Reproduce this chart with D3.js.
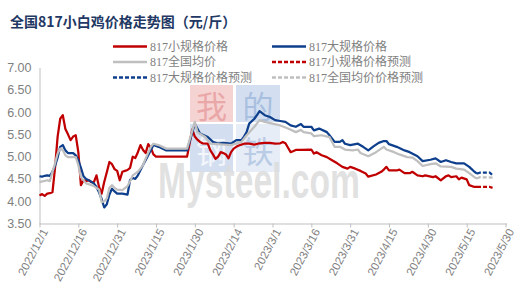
<!DOCTYPE html>
<html>
<head>
<meta charset="utf-8">
<script src="https://cdn.jsdelivr.net/npm/d3@7"></script>
<style>
  html, body { margin: 0; padding: 0; background: #fff; }
  #chart { width: 522px; height: 295px; }
</style>
</head>
<body>
<div id="chart"></div>
<script>
// 817小规格价格
const smallPrice = [["2022/12/1",4.13],["2022/12/2",4.16],["2022/12/3",4.12],["2022/12/4",4.17],["2022/12/5",4.18],["2022/12/6",4.20],["2022/12/7",4.75],["2022/12/8",5.45],["2022/12/9",5.85],["2022/12/10",5.93],["2022/12/11",5.62],["2022/12/12",5.50],["2022/12/13",5.37],["2022/12/14",5.45],["2022/12/15",5.48],["2022/12/16",5.10],["2022/12/17",4.36],["2022/12/18",4.47],["2022/12/19",4.45],["2022/12/20",4.47],["2022/12/21",4.43],["2022/12/22",4.43],["2022/12/23",4.58],["2022/12/24",4.32],["2022/12/25",4.17],["2022/12/26",4.43],["2022/12/27",4.65],["2022/12/28",4.88],["2022/12/29",4.83],["2022/12/30",4.72],["2022/12/31",4.68],["2023/1/1",4.47],["2023/1/2",4.66],["2023/1/3",4.68],["2023/1/4",4.70],["2023/1/5",4.75],["2023/1/6",5.00],["2023/1/7",4.97],["2023/1/8",5.10],["2023/1/9",5.26],["2023/1/10",5.15],["2023/1/11",5.08],["2023/1/12",5.28],["2023/1/13",5.20],["2023/1/14",5.05],["2023/1/15",5.00],["2023/1/27",5.00],["2023/1/28",5.30],["2023/1/29",5.61],["2023/1/30",5.45],["2023/1/31",5.38],["2023/2/1",5.33],["2023/2/2",5.30],["2023/2/4",5.29],["2023/2/5",5.14],["2023/2/6",5.05],["2023/2/7",4.95],["2023/2/8",5.00],["2023/2/9",5.10],["2023/2/10",5.08],["2023/2/11",5.05],["2023/2/12",4.96],["2023/2/13",5.10],["2023/2/14",5.18],["2023/2/15",5.22],["2023/2/16",5.25],["2023/2/17",5.27],["2023/2/18",5.29],["2023/2/20",5.29],["2023/2/22",5.27],["2023/2/24",5.30],["2023/2/26",5.31],["2023/2/28",5.31],["2023/3/2",5.29],["2023/3/4",5.30],["2023/3/5",5.33],["2023/3/6",5.30],["2023/3/7",5.20],["2023/3/8",5.10],["2023/3/10",5.15],["2023/3/12",5.15],["2023/3/16",5.16],["2023/3/17",5.07],["2023/3/18",5.10],["2023/3/20",5.03],["2023/3/22",4.99],["2023/3/24",4.92],["2023/3/26",4.85],["2023/3/28",4.77],["2023/3/30",4.73],["2023/3/31",4.77],["2023/4/2",4.73],["2023/4/4",4.68],["2023/4/6",4.62],["2023/4/7",4.55],["2023/4/10",4.60],["2023/4/12",4.66],["2023/4/13",4.71],["2023/4/14",4.77],["2023/4/15",4.69],["2023/4/18",4.69],["2023/4/19",4.71],["2023/4/21",4.63],["2023/4/23",4.63],["2023/4/24",4.66],["2023/4/26",4.58],["2023/4/28",4.56],["2023/4/29",4.58],["2023/5/2",4.54],["2023/5/3",4.56],["2023/5/5",4.47],["2023/5/7",4.56],["2023/5/8",4.58],["2023/5/9",4.54],["2023/5/11",4.56],["2023/5/12",4.49],["2023/5/13",4.53],["2023/5/15",4.49],["2023/5/16",4.36],["2023/5/18",4.32],["2023/5/19",4.32]];

// 817大规格价格
const largePrice = [["2022/12/1",4.56],["2022/12/2",4.55],["2022/12/3",4.57],["2022/12/4",4.58],["2022/12/5",4.57],["2022/12/6",4.66],["2022/12/7",4.80],["2022/12/8",4.98],["2022/12/9",5.22],["2022/12/10",5.26],["2022/12/11",5.14],["2022/12/12",5.08],["2022/12/14",5.08],["2022/12/15",5.03],["2022/12/16",4.92],["2022/12/17",4.75],["2022/12/18",4.56],["2022/12/19",4.50],["2022/12/20",4.47],["2022/12/22",4.40],["2022/12/23",4.32],["2022/12/24",4.20],["2022/12/25",4.05],["2022/12/26",3.86],["2022/12/27",3.93],["2022/12/28",4.15],["2022/12/29",4.28],["2022/12/30",4.22],["2022/12/31",4.17],["2023/1/2",4.17],["2023/1/4",4.15],["2023/1/5",4.48],["2023/1/6",4.52],["2023/1/7",4.50],["2023/1/8",4.58],["2023/1/10",4.81],["2023/1/12",5.03],["2023/1/14",5.26],["2023/1/16",5.22],["2023/1/19",5.14],["2023/1/27",5.14],["2023/1/30",5.74],["2023/2/1",5.52],["2023/2/4",5.44],["2023/2/6",5.33],["2023/2/8",5.29],["2023/2/10",5.31],["2023/2/13",5.29],["2023/2/15",5.37],["2023/2/17",5.37],["2023/2/18",5.45],["2023/2/19",5.55],["2023/2/20",5.74],["2023/2/22",5.85],["2023/2/23",5.93],["2023/2/24",6.02],["2023/2/26",5.93],["2023/2/28",5.89],["2023/3/2",5.82],["2023/3/4",5.80],["2023/3/6",5.78],["2023/3/8",5.70],["2023/3/10",5.67],["2023/3/12",5.73],["2023/3/13",5.67],["2023/3/16",5.67],["2023/3/17",5.59],["2023/3/19",5.63],["2023/3/22",5.55],["2023/3/23",5.48],["2023/3/25",5.33],["2023/3/27",5.33],["2023/3/28",5.37],["2023/3/29",5.29],["2023/3/31",5.26],["2023/4/3",5.29],["2023/4/5",5.22],["2023/4/7",5.14],["2023/4/9",5.23],["2023/4/11",5.31],["2023/4/13",5.35],["2023/4/14",5.35],["2023/4/15",5.28],["2023/4/18",5.22],["2023/4/21",5.14],["2023/4/23",5.10],["2023/4/26",5.01],["2023/4/28",4.90],["2023/5/1",4.93],["2023/5/3",4.96],["2023/5/5",4.88],["2023/5/7",4.92],["2023/5/9",4.88],["2023/5/11",4.85],["2023/5/14",4.85],["2023/5/16",4.77],["2023/5/18",4.66],["2023/5/19",4.62]];

// 817全国均价
const avgPrice = [["2022/12/1",4.43],["2022/12/4",4.47],["2022/12/5",4.45],["2022/12/6",4.66],["2022/12/7",4.85],["2022/12/8",5.07],["2022/12/9",5.18],["2022/12/10",5.15],["2022/12/11",5.03],["2022/12/12",4.99],["2022/12/15",4.99],["2022/12/16",4.81],["2022/12/17",4.54],["2022/12/19",4.40],["2022/12/22",4.34],["2022/12/23",4.30],["2022/12/24",4.26],["2022/12/25",3.98],["2022/12/26",4.00],["2022/12/27",4.06],["2022/12/28",4.30],["2022/12/29",4.36],["2022/12/30",4.30],["2022/12/31",4.26],["2023/1/2",4.25],["2023/1/4",4.34],["2023/1/5",4.45],["2023/1/6",4.58],["2023/1/8",4.66],["2023/1/10",4.81],["2023/1/11",4.96],["2023/1/13",5.22],["2023/1/14",5.29],["2023/1/16",5.26],["2023/1/19",5.18],["2023/1/27",5.18],["2023/1/30",5.78],["2023/1/31",5.55],["2023/2/3",5.44],["2023/2/5",5.29],["2023/2/13",5.26],["2023/2/17",5.33],["2023/2/19",5.48],["2023/2/22",5.67],["2023/2/24",5.82],["2023/2/26",5.78],["2023/3/1",5.74],["2023/3/4",5.70],["2023/3/7",5.63],["2023/3/10",5.55],["2023/3/12",5.60],["2023/3/13",5.55],["2023/3/16",5.52],["2023/3/17",5.46],["2023/3/20",5.48],["2023/3/23",5.44],["2023/3/25",5.22],["2023/3/27",5.22],["2023/3/29",5.16],["2023/4/1",5.14],["2023/4/3",5.16],["2023/4/4",5.08],["2023/4/7",5.01],["2023/4/10",5.10],["2023/4/13",5.22],["2023/4/14",5.16],["2023/4/17",5.10],["2023/4/19",5.05],["2023/4/22",4.99],["2023/4/24",4.98],["2023/4/26",4.90],["2023/4/28",4.79],["2023/5/1",4.83],["2023/5/3",4.85],["2023/5/5",4.78],["2023/5/9",4.77],["2023/5/11",4.73],["2023/5/14",4.71],["2023/5/16",4.63],["2023/5/18",4.54],["2023/5/19",4.51]];

// 预测
const smallForecast = [["2023/5/19",4.32],["2023/5/24",4.32],["2023/5/25",4.30]];
const largeForecast = [["2023/5/19",4.62],["2023/5/20",4.64],["2023/5/24",4.64],["2023/5/25",4.58]];
const avgForecast = [["2023/5/19",4.51],["2023/5/20",4.54],["2023/5/25",4.53]];

const tickLabels = ["2022/12/1","2022/12/16","2022/12/31","2023/1/15","2023/1/30","2023/2/14","2023/3/1","2023/3/16","2023/3/31","2023/4/15","2023/4/30","2023/5/15","2023/5/30"];
const yTicks = [3.5, 4.0, 4.5, 5.0, 5.5, 6.0, 6.5, 7.0];

const legendNames = ["817小规格价格", "817大规格价格", "817全国均价", "817小规格价格预测", "817大规格价格预测", "817全国均价价格预测"];

document.addEventListener("DOMContentLoaded", function() {
    const width = 522, height = 295;
    const red = "#c00000", blue = "#0e3f8c", grey = "#bfbfbf";
    const parse = d3.timeParse("%Y/%m/%d");

    const svg = d3.select("#chart").append("svg")
        .attr("width", width)
        .attr("height", height);

    const x = d3.scaleTime()
        .domain([parse(tickLabels[0]), parse(tickLabels[tickLabels.length - 1])])
        .range([39.5, 505.5]);
    const y = d3.scaleLinear()
        .domain([3.5, 7.0])
        .range([223.5, 67.5]);

    // watermark (behind the lines)
    const wm = svg.append("g").attr("class", "watermark");
    const blocks = [
        { t: "我", x: 190, y: 85, w: 43, h: 37, bg: "#f6d3d3", fg: "#eaa7a7" },
        { t: "的", x: 236, y: 85, w: 44, h: 37, bg: "#d3dff0", fg: "#a9bfdf" },
        { t: "钢", x: 190, y: 124, w: 43, h: 48, bg: "#d3dff0", fg: "#f3f6fb" },
        { t: "铁", x: 236, y: 124, w: 44, h: 48, bg: "#e6edf7", fg: "#b9cbe5" }
    ];
    blocks.forEach(b => {
        wm.append("rect").attr("x", b.x).attr("y", b.y).attr("width", b.w).attr("height", b.h)
            .attr("fill", b.bg);
        wm.append("text").attr("x", b.x + b.w / 2).attr("y", b.y + b.h / 2 + 1)
            .attr("text-anchor", "middle").attr("dominant-baseline", "central")
            .attr("font-family", "'Noto Sans CJK SC'").attr("font-size", 31)
            .attr("fill", b.fg).text(b.t);
    });
    wm.append("text")
        .attr("x", 158).attr("y", 198)
        .attr("font-family", "'Liberation Sans', Arial, sans-serif")
        .attr("font-weight", "bold").attr("font-size", 50)
        .attr("textLength", 202).attr("lengthAdjust", "spacingAndGlyphs")
        .attr("fill", "#dcdcdc").attr("fill-opacity", 0.85)
        .text("Mysteel.com");

    // axes
    const xAxis = d3.axisBottom(x)
        .tickValues(tickLabels.map(parse))
        .tickSize(4)
        .tickFormat(d3.timeFormat("%Y/%-m/%-d"));
    const gx = svg.append("g").attr("transform", "translate(0,223.5)").call(xAxis);
    gx.select(".domain").attr("stroke", "#bfbfbf").attr("d", "M39.5,0.5H507");
    gx.selectAll(".tick line").attr("stroke", "#bfbfbf");
    gx.selectAll(".tick text")
        .attr("fill", "#7f7f7f")
        .attr("font-family", "'Liberation Sans', Arial, sans-serif")
        .attr("font-size", 11.5)
        .attr("text-anchor", "end")
        .attr("dy", "0.35em")
        .attr("transform", "translate(5,6) rotate(-62)")
        .attr("x", 0).attr("y", 0);

    const yAxis = d3.axisLeft(y)
        .tickValues(yTicks)
        .tickSize(0)
        .tickPadding(8)
        .tickFormat(d3.format(".2f"));
    const gy = svg.append("g").attr("transform", "translate(39.5,0)").call(yAxis);
    gy.select(".domain").attr("stroke", "#bfbfbf");
    gy.selectAll(".tick text")
        .attr("fill", "#7f7f7f")
        .attr("font-family", "'Liberation Sans', Arial, sans-serif")
        .attr("font-size", 12.5);

    // lines
    const line = d3.line()
        .x(d => x(parse(d[0])))
        .y(d => y(d[1]));

    const series = [
        { data: smallPrice, color: red, dash: null },
        { data: largePrice, color: blue, dash: null },
        { data: avgPrice, color: grey, dash: null },
        { data: smallForecast, color: red, dash: "4,2" },
        { data: largeForecast, color: blue, dash: "4,2" },
        { data: avgForecast, color: grey, dash: "4,2" }
    ];
    series.forEach(s => {
        svg.append("path")
            .datum(s.data)
            .attr("fill", "none")
            .attr("stroke", s.color)
            .attr("stroke-width", 2.25)
            .attr("stroke-linejoin", "round")
            .attr("stroke-dasharray", s.dash)
            .attr("d", line);
    });

    // title
    svg.append("text")
        .attr("x", 10).attr("y", 27)
        .attr("font-family", "'Noto Sans CJK SC', sans-serif")
        .attr("font-weight", "bold")
        .attr("font-size", 14)
        .attr("fill", "#1f3864")
        .text("全国817小白鸡价格走势图（元/斤）");

    // legend, two columns
    const legend = svg.append("g");
    series.forEach((s, i) => {
        const col = i % 2, row = Math.floor(i / 2);
        const lx = col === 0 ? 113 : 272;
        const ly = 46.5 + row * 15.5;
        legend.append("line")
            .attr("x1", lx).attr("x2", lx + 34)
            .attr("y1", ly).attr("y2", ly)
            .attr("stroke", s.color)
            .attr("stroke-width", 2.5)
            .attr("stroke-dasharray", s.dash);
        legend.append("text")
            .attr("x", lx + 37).attr("y", ly)
            .attr("dominant-baseline", "central")
            .attr("font-family", "'Liberation Serif', 'Noto Sans CJK SC', serif")
            .attr("font-size", 12)
            .attr("fill", "#7f7f7f")
            .text(legendNames[i]);
    });
});
</script>
</body>
</html>
